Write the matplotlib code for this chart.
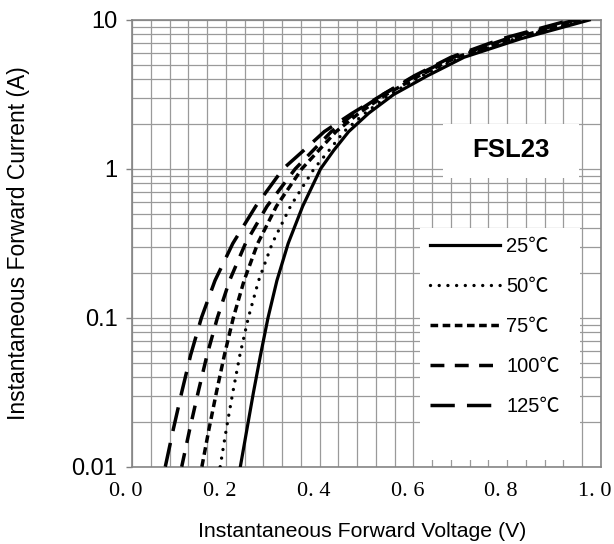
import numpy as np
import matplotlib
matplotlib.use('Agg')
import matplotlib.pyplot as plt
from matplotlib.ticker import FixedLocator, MultipleLocator, LogLocator, NullFormatter, NullFormatter as NF
from matplotlib.patches import Rectangle
from matplotlib.transforms import ScaledTranslation

plt.rcParams['font.family'] = ['Liberation Sans', 'Noto Sans CJK SC', 'DejaVu Sans']

# lecturas de la grafica: corriente (A) y tension (V) de cada curva
i_lo = [0.01, 0.0178, 0.0316, 0.0562, 0.1, 0.178, 0.316, 0.562, 1.0]
i_hi = [1.33, 1.78, 2.37, 3.16, 4.22, 5.62, 7.5, 10.0]

v_25 = [0.231, 0.245, 0.259, 0.274, 0.290, 0.309, 0.333, 0.364, 0.402,
        0.430, 0.462, 0.505, 0.558, 0.630, 0.708, 0.830, 0.975]
v_50 = [0.188, 0.201, 0.215, 0.230, 0.248, 0.270, 0.299, 0.338, 0.388,
        0.420, 0.452, 0.497, 0.550, 0.618, 0.700, 0.818, 0.965]
v_75 = [0.149, 0.164, 0.180, 0.197, 0.216, 0.239, 0.268, 0.308, 0.362,
        0.398, 0.435, 0.484, 0.542, 0.612, 0.692, 0.810, 0.955]
v_100 = [0.106, 0.123, 0.141, 0.160, 0.182, 0.208, 0.242, 0.288, 0.348,
         0.386, 0.425, 0.475, 0.535, 0.605, 0.685, 0.800, 0.945]
v_125 = [0.071, 0.088, 0.106, 0.125, 0.148, 0.177, 0.215, 0.264, 0.322,
         0.366, 0.410, 0.470, 0.535, 0.602, 0.680, 0.790, 0.935]
corriente = i_lo + i_hi

etiquetas = ['25℃', '50℃', '75℃', '100℃', '125℃']
x_ticks = [0.0, 0.2, 0.4, 0.6, 0.8, 1.0]
x_labels = ['0. 0', '0. 2', '0. 4', '0. 6', '0. 8', '1. 0']
y_ticks = [0.01, 0.1, 1, 10]
y_labels = ['0.01', '0.1', '1', '10']

fig = plt.figure(figsize=(6.14, 5.44), dpi=100)
ax = fig.add_axes([132 / 614, 1 - 466.7 / 544, 469 / 614, 446.7 / 544])

estilos = [
    dict(linestyle='-', lw=2.3),
    dict(linestyle=(0, (0.01, 2.6)), lw=2.4, dash_capstyle='round'),
    dict(linestyle=(0, (2.2, 1.3)), lw=2.5),
    dict(linestyle=(0, (4, 3)), lw=2.5),
    dict(linestyle=(0, (7, 3.5)), lw=2.5),
]
series = [v_25, v_50, v_75, v_100, v_125]
for v, est, lab in zip(series, estilos, etiquetas):
    ax.plot(v, corriente, color='black', label=lab, zorder=3, **est)

ax.set_yscale('log')
ax.set_xlim(0, 1.0)
ax.set_ylim(0.01, 10)

ax.xaxis.set_major_locator(FixedLocator(x_ticks))
ax.xaxis.set_major_formatter(NF())
ax.xaxis.set_minor_locator(MultipleLocator(0.04))
# etiquetas del eje x un poco desplazadas a la izquierda, como en el original
desplaza = ScaledTranslation(-6 / 100, -24.5 / 100, fig.dpi_scale_trans)
for xv, lab in zip(x_ticks, x_labels):
    ax.text(xv, 0, lab, transform=ax.get_xaxis_transform() + desplaza,
            ha='center', va='center', fontsize=16,
            family=['Liberation Serif', 'DejaVu Serif'])

ax.yaxis.set_major_locator(FixedLocator(y_ticks))
ax.set_yticklabels(y_labels, fontsize=17)
ax.yaxis.set_minor_locator(LogLocator(base=10, subs=np.arange(2, 10)))
ax.yaxis.set_minor_formatter(NullFormatter())

ax.tick_params(axis='x', which='both', length=0)
ax.tick_params(axis='y', which='major', length=4.5, width=1, color='#808080', pad=6)
ax.tick_params(axis='y', which='minor', length=0)

ax.set_axisbelow(True)
ax.grid(True, which='both', color='#9a9a9a', lw=0.9)
for s in ax.spines.values():
    s.set_color('#858585')
    s.set_linewidth(1.2)

ax.set_xlabel('Instantaneous Forward Voltage (V)', fontsize=15.3, va='center')
ax.xaxis.set_label_coords(0.49, -0.144)
ax.set_ylabel('Instantaneous Forward Current (A)', fontsize=16.5, va='center')
ax.yaxis.set_label_coords(-0.243, 0.5)

# cajas blancas del rotulo y de la leyenda
ax.add_patch(Rectangle((0.663, 0.646), 0.29, 0.121, transform=ax.transAxes,
                       facecolor='white', edgecolor='none', zorder=1))
ax.text(0.809, 0.709, 'FSL23', transform=ax.transAxes, fontsize=18.5,
        fontweight='bold', ha='center', va='center', zorder=4)
ax.add_patch(Rectangle((0.614, 0.015), 0.341, 0.519, transform=ax.transAxes,
                       facecolor='white', edgecolor='none', zorder=1))

ax.legend(loc='upper left', bbox_to_anchor=(0.635, 0.515), frameon=False,
          fontsize=14.5, handlelength=3.5, handletextpad=0.3, labelspacing=1.05,
          borderpad=0, borderaxespad=0)

plt.savefig('out.png', dpi=100)
plt.close()
